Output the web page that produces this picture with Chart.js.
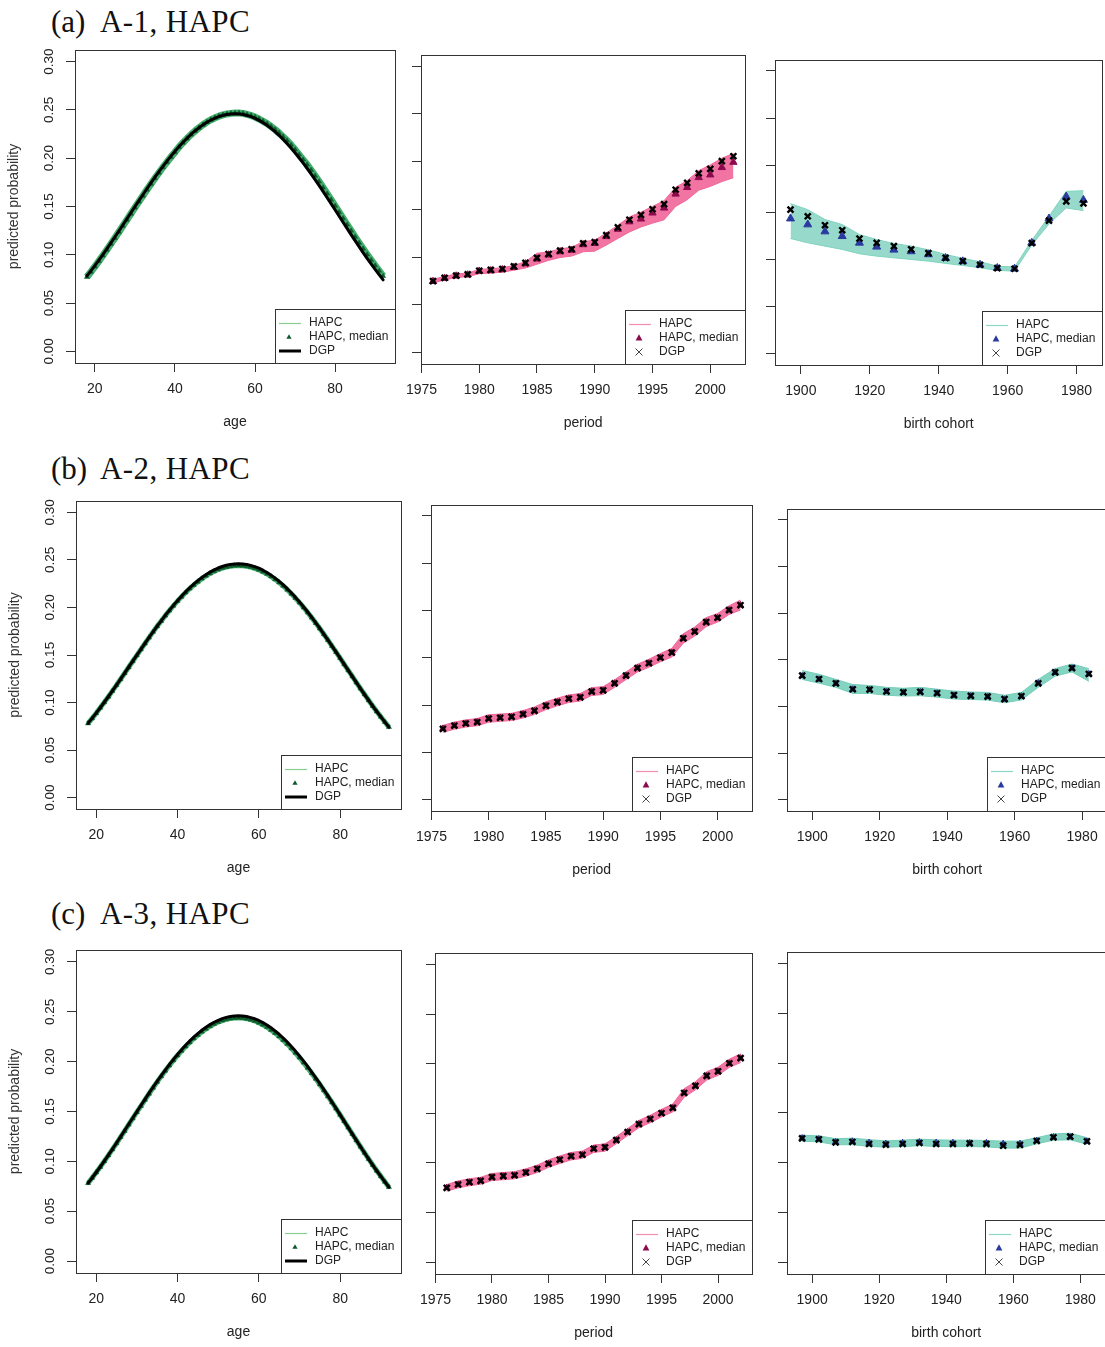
<!DOCTYPE html>
<html><head><meta charset="utf-8">
<script src="https://cdn.jsdelivr.net/npm/chart.js@4.4.1/dist/chart.umd.min.js"></script>
<style>
html,body{margin:0;padding:0;background:#fff;overflow:hidden;width:1105px;height:1347px;position:relative;}
.t{position:absolute;font-family:"Liberation Serif","Times New Roman",serif;font-size:31px;line-height:30px;color:#111;white-space:nowrap;}
canvas{position:absolute;}
</style></head><body>
<div class="t" style="left:51px;top:7px">(a)</div><div class="t" style="left:100px;top:7px;letter-spacing:0.4px">A-1, HAPC</div>
<div class="t" style="left:51px;top:454px">(b)</div><div class="t" style="left:100px;top:454px;letter-spacing:0.4px">A-2, HAPC</div>
<div class="t" style="left:51px;top:899px">(c)</div><div class="t" style="left:100px;top:899px;letter-spacing:0.4px">A-3, HAPC</div>
<script>
// ---------- categories / ticks ----------
const ages = [18,19,20,21,22,23,24,25,26,27,28,29,30,31,32,33,34,35,36,37,38,39,40,41,42,43,44,45,46,47,48,49,50,51,52,53,54,55,56,57,58,59,60,61,62,63,64,65,66,67,68,69,70,71,72,73,74,75,76,77,78,79,80,81,82,83,84,85,86,87,88,89,90,91,92];
const periods = [1976,1977,1978,1979,1980,1981,1982,1983,1984,1985,1986,1987,1988,1989,1990,1991,1992,1993,1994,1995,1996,1997,1998,1999,2000,2001,2002];
const cohorts = [1897,1902,1907,1912,1917,1922,1927,1932,1937,1942,1947,1952,1957,1962,1967,1972,1977,1982];
const ageTicks = [20,40,60,80];
const periodTicks = [1975,1980,1985,1990,1995,2000];
const cohortTicks = [1900,1920,1940,1960,1980];
const yTicks = [0,0.05,0.10,0.15,0.20,0.25,0.30];

// ---------- age ----------
const ageDgp = [0.0782,0.0833,0.0888,0.0945,0.1003,0.1062,0.1123,0.1184,0.1246,0.1309,0.1372,0.1435,0.1498,0.1560,0.1622,0.1684,0.1744,0.1803,0.1860,0.1916,0.1970,0.2022,0.2072,0.2119,0.2164,0.2206,0.2246,0.2282,0.2315,0.2345,0.2372,0.2395,0.2415,0.2431,0.2444,0.2453,0.2458,0.2460,0.2458,0.2453,0.2442,0.2430,0.2413,0.2392,0.2368,0.2340,0.2309,0.2275,0.2237,0.2196,0.2152,0.2106,0.2057,0.2005,0.1952,0.1896,0.1838,0.1779,0.1718,0.1656,0.1593,0.1530,0.1466,0.1401,0.1337,0.1273,0.1209,0.1146,0.1084,0.1023,0.0963,0.0905,0.0849,0.0794,0.0740];
const ageMedA = [0.0770,0.0823,0.0878,0.0935,0.0993,0.1052,0.1113,0.1174,0.1236,0.1299,0.1362,0.1425,0.1488,0.1550,0.1612,0.1674,0.1734,0.1793,0.1850,0.1906,0.1960,0.2012,0.2062,0.2115,0.2160,0.2203,0.2244,0.2281,0.2315,0.2346,0.2374,0.2398,0.2418,0.2435,0.2448,0.2458,0.2464,0.2467,0.2468,0.2464,0.2454,0.2442,0.2426,0.2406,0.2383,0.2358,0.2329,0.2297,0.2261,0.2222,0.2182,0.2137,0.2089,0.2037,0.1985,0.1934,0.1877,0.1818,0.1758,0.1696,0.1633,0.1570,0.1506,0.1441,0.1377,0.1313,0.1249,0.1186,0.1124,0.1063,0.1003,0.0945,0.0889,0.0834,0.0780];
const ageMedB = [0.0780,0.0833,0.0887,0.0944,0.1002,0.1061,0.1122,0.1183,0.1245,0.1308,0.1371,0.1434,0.1497,0.1559,0.1621,0.1683,0.1743,0.1802,0.1858,0.1914,0.1967,0.2018,0.2067,0.2113,0.2157,0.2198,0.2236,0.2271,0.2303,0.2332,0.2358,0.2380,0.2399,0.2414,0.2426,0.2434,0.2439,0.2441,0.2439,0.2434,0.2424,0.2412,0.2396,0.2376,0.2353,0.2326,0.2296,0.2263,0.2227,0.2187,0.2144,0.2099,0.2051,0.2000,0.1948,0.1893,0.1836,0.1778,0.1718,0.1657,0.1594,0.1531,0.1467,0.1402,0.1338,0.1274,0.1210,0.1147,0.1085,0.1024,0.0964,0.0906,0.0850,0.0795,0.0741];
const ageMedC = [0.0781,0.0834,0.0888,0.0944,0.1001,0.1060,0.1120,0.1181,0.1243,0.1305,0.1368,0.1431,0.1493,0.1555,0.1617,0.1678,0.1738,0.1797,0.1853,0.1909,0.1962,0.2013,0.2062,0.2108,0.2152,0.2193,0.2232,0.2267,0.2300,0.2329,0.2355,0.2378,0.2397,0.2412,0.2424,0.2432,0.2437,0.2439,0.2437,0.2431,0.2421,0.2408,0.2391,0.2370,0.2346,0.2318,0.2287,0.2253,0.2216,0.2176,0.2133,0.2088,0.2040,0.1990,0.1938,0.1884,0.1828,0.1771,0.1712,0.1652,0.1591,0.1529,0.1466,0.1402,0.1338,0.1274,0.1210,0.1147,0.1085,0.1024,0.0964,0.0906,0.0850,0.0795,0.0741];

// ---------- period ----------
const perDgp  = [0.0748,0.0782,0.0805,0.0819,0.0857,0.0866,0.0875,0.0903,0.0939,0.0991,0.1032,0.1067,0.1082,0.1143,0.1156,0.1229,0.1311,0.1391,0.1442,0.1501,0.1554,0.1705,0.1777,0.1877,0.1923,0.2004,0.2056];
const perMedA = [0.0745,0.0778,0.0802,0.0813,0.0852,0.0858,0.0868,0.0892,0.0929,0.0980,0.1022,0.1056,0.1072,0.1130,0.1143,0.1215,0.1292,0.1370,0.1399,0.1462,0.1514,0.1660,0.1729,0.1833,0.1861,0.1938,0.1993];
const perUpA  = [0.0765,0.0798,0.0822,0.0833,0.0870,0.0878,0.0888,0.0912,0.0952,0.1040,0.1052,0.1086,0.1102,0.1162,0.1176,0.1252,0.1332,0.1420,0.1470,0.1530,0.1590,0.1730,0.1800,0.1905,0.1965,0.2035,0.2085];
const perLoA  = [0.0730,0.0760,0.0785,0.0795,0.0825,0.0832,0.0842,0.0862,0.0885,0.0925,0.0965,0.0995,0.1010,0.1055,0.1062,0.1125,0.1195,0.1262,0.1315,0.1355,0.1390,0.1530,0.1600,0.1700,0.1740,0.1790,0.1830];
const perMedB = [0.0752,0.0784,0.0806,0.0822,0.0858,0.0868,0.0875,0.0905,0.0941,0.0993,0.1033,0.1068,0.1082,0.1145,0.1155,0.1230,0.1313,0.1394,0.1443,0.1502,0.1555,0.1706,0.1776,0.1878,0.1922,0.2004,0.2057];
const perUpB  = [0.0785,0.0820,0.0843,0.0858,0.0898,0.0905,0.0913,0.0942,0.0980,0.1035,0.1073,0.1108,0.1122,0.1185,0.1195,0.1268,0.1350,0.1432,0.1485,0.1545,0.1600,0.1755,0.1825,0.1925,0.1968,0.2050,0.2110];
const perLoB  = [0.0712,0.0745,0.0768,0.0782,0.0818,0.0828,0.0836,0.0864,0.0900,0.0952,0.0992,0.1027,0.1043,0.1102,0.1112,0.1188,0.1270,0.1350,0.1400,0.1458,0.1508,0.1655,0.1730,0.1830,0.1878,0.1958,0.2005];
const perMedC = [0.0749,0.0782,0.0804,0.0820,0.0856,0.0866,0.0874,0.0903,0.0940,0.0992,0.1032,0.1067,0.1081,0.1144,0.1156,0.1229,0.1311,0.1392,0.1442,0.1501,0.1554,0.1705,0.1776,0.1877,0.1922,0.2003,0.2055];
const perUpC  = [0.0782,0.0818,0.0840,0.0855,0.0893,0.0903,0.0912,0.0940,0.0977,0.1030,0.1070,0.1105,0.1120,0.1180,0.1192,0.1265,0.1346,0.1428,0.1480,0.1540,0.1594,0.1748,0.1818,0.1920,0.1965,0.2046,0.2100];
const perLoC  = [0.0715,0.0748,0.0770,0.0785,0.0822,0.0830,0.0840,0.0867,0.0903,0.0955,0.0995,0.1030,0.1046,0.1106,0.1118,0.1193,0.1276,0.1355,0.1405,0.1463,0.1514,0.1662,0.1737,0.1835,0.1882,0.1963,0.2012];

// ---------- birth cohort ----------
const cohDgpA = [0.1528,0.1458,0.1363,0.1310,0.1222,0.1176,0.1141,0.1106,0.1067,0.1017,0.0982,0.0943,0.0908,0.0901,0.1173,0.1412,0.1616,0.1595];
const cohMedA = [0.1433,0.1370,0.1296,0.1246,0.1176,0.1134,0.1102,0.1085,0.1053,0.1014,0.0979,0.0943,0.0908,0.0901,0.1176,0.1433,0.1666,0.1630];
const cohUpA  = [0.1592,0.1528,0.1423,0.1370,0.1264,0.1211,0.1169,0.1141,0.1102,0.1053,0.1011,0.0975,0.0929,0.0919,0.1201,0.1458,0.1722,0.1729];
const cohLoA  = [0.1222,0.1176,0.1141,0.1106,0.1060,0.1035,0.1017,0.1000,0.0982,0.0958,0.0936,0.0912,0.0883,0.0877,0.1152,0.1377,0.1546,0.1518];
const cohDgpB = [0.1330,0.1294,0.1248,0.1184,0.1181,0.1160,0.1152,0.1156,0.1142,0.1121,0.1114,0.1106,0.1078,0.1110,0.1248,0.1365,0.1411,0.1348];
const cohMedB = [0.1327,0.1290,0.1246,0.1184,0.1180,0.1160,0.1150,0.1156,0.1142,0.1118,0.1112,0.1106,0.1076,0.1110,0.1250,0.1365,0.1410,0.1348];
const cohUpB  = [0.1385,0.1345,0.1290,0.1235,0.1225,0.1205,0.1195,0.1205,0.1185,0.1165,0.1155,0.1150,0.1120,0.1150,0.1290,0.1405,0.1455,0.1405];
const cohLoB  = [0.1290,0.1250,0.1205,0.1140,0.1140,0.1120,0.1112,0.1115,0.1100,0.1080,0.1075,0.1068,0.1040,0.1070,0.1205,0.1325,0.1370,0.1270];
const cohDgpC = [0.1243,0.1233,0.1203,0.1207,0.1187,0.1180,0.1187,0.1197,0.1187,0.1187,0.1193,0.1187,0.1170,0.1177,0.1217,0.1253,0.1260,0.1213];
const cohMedC = [0.1245,0.1236,0.1208,0.1213,0.1200,0.1190,0.1198,0.1205,0.1200,0.1198,0.1196,0.1198,0.1190,0.1190,0.1220,0.1255,0.1255,0.1213];
const cohUpC  = [0.1275,0.1268,0.1240,0.1245,0.1230,0.1218,0.1225,0.1235,0.1228,0.1225,0.1225,0.1222,0.1215,0.1215,0.1250,0.1288,0.1295,0.1250];
const cohLoC  = [0.1215,0.1208,0.1178,0.1180,0.1162,0.1155,0.1160,0.1170,0.1162,0.1160,0.1160,0.1158,0.1145,0.1145,0.1188,0.1225,0.1228,0.1185];

const legendLabels = ['HAPC','HAPC, median','DGP'];

// ---------- styles ----------
const COL = {
  age: {band:'#44ae6e', legend:'#86cf90', med:'#0c5a2a'},
  period: {band:'#f06898', fill:'rgba(241,104,154,0.92)', legend:'#f28db3', med:'#8b0a4e'},
  cohort: {band:'#74cdb8', fill:'rgba(122,208,189,0.92)', legend:'#8ad7c5', med:'#2a3a9e'},
  cohortWide: {band:'#7fd3bf', fill:'rgba(122,208,189,0.78)', legend:'#8ad7c5', med:'#2a3a9e'}
};
const SANS = '"Liberation Sans", Arial, sans-serif';

function pts(xs, ys){ return xs.map((x,i)=>({x:x, y:ys[i]})); }

function ageSets(med, bw){
  return [
    {data:pts(ages,ageDgp), borderColor:'#000', borderWidth:3, pointRadius:0, borderCapStyle:'round', borderJoinStyle:'round'},
    {data:pts(ages,med), showLine:false, pointStyle:'triangle', pointRadius:2.9, pointBackgroundColor:COL.age.med, pointBorderColor:COL.age.med, pointBorderWidth:0.5},
    {data:pts(ages,med), borderColor:COL.age.band, borderWidth:bw, pointRadius:0, borderJoinStyle:'round'}
  ];
}
function bandSets(xs, dgp, med, up, lo, c, r){
  return [
    {data:pts(xs,dgp), showLine:false, pointStyle:'crossRot', pointRadius:4.2, pointBorderWidth:2.4, pointBorderColor:'#000'},
    {data:pts(xs,med), showLine:false, pointStyle:'triangle', pointRadius:r, pointBackgroundColor:c.med, pointBorderColor:c.med, pointBorderWidth:1},
    {data:pts(xs,up), borderColor:c.band, borderWidth:1, pointRadius:0, fill:false},
    {data:pts(xs,lo), borderColor:c.band, borderWidth:1, pointRadius:0, fill:'-1', backgroundColor:c.fill}
  ];
}

const frameLegend = {
  id:'frameLegend',
  afterDatasetsDraw(chart){
    const o = chart.options.plugins.frameLegend;
    const {ctx, chartArea:a} = chart;
    ctx.save();
    ctx.strokeStyle = '#333'; ctx.lineWidth = 1;
    ctx.strokeRect(Math.round(a.left)+0.5, Math.round(a.top)+0.5, Math.round(a.right-a.left), Math.round(a.bottom-a.top));
    const lw = 120, lh = 54;
    const x0 = Math.round(a.right)-lw, y0 = Math.round(a.bottom)-lh;
    ctx.fillStyle = '#fff'; ctx.fillRect(x0, y0, lw, lh);
    ctx.strokeRect(x0+0.5, y0+0.5, lw, lh);
    const c = COL[o.kind];
    ctx.strokeStyle = c.legend; ctx.lineWidth = 1.2;
    ctx.beginPath(); ctx.moveTo(x0+4, y0+14.5); ctx.lineTo(x0+26, y0+14.5); ctx.stroke();
    const tr = o.kind==='age' ? 2.6 : 3.4;
    const tx = x0+14, ty = y0+28;
    ctx.fillStyle = c.med;
    ctx.beginPath(); ctx.moveTo(tx, ty-tr*1.1); ctx.lineTo(tx+tr, ty+tr*0.7); ctx.lineTo(tx-tr, ty+tr*0.7); ctx.closePath(); ctx.fill();
    if (o.kind==='age'){
      ctx.strokeStyle = '#000'; ctx.lineWidth = 3;
      ctx.beginPath(); ctx.moveTo(x0+4, y0+42); ctx.lineTo(x0+26, y0+42); ctx.stroke();
    } else {
      ctx.strokeStyle = '#444'; ctx.lineWidth = 1;
      ctx.beginPath(); ctx.moveTo(tx-3.5, y0+38.5); ctx.lineTo(tx+3.5, y0+45.5);
      ctx.moveTo(tx+3.5, y0+38.5); ctx.lineTo(tx-3.5, y0+45.5); ctx.stroke();
    }
    ctx.fillStyle = '#222'; ctx.font = '12px ' + SANS; ctx.textBaseline = 'middle'; ctx.textAlign = 'left';
    legendLabels.forEach((t,i)=>ctx.fillText(t, x0+34, y0+14+i*14));
    ctx.restore();
  }
};

function makePanel(p){
  const padL = p.first ? 75 : 20, padT = 5, padR = 5, padB = 75;
  const w = (p.R-p.L)+padL+padR, h = (p.B-p.T)+padT+padB;
  const cv = document.createElement('canvas');
  cv.width = w; cv.height = h;
  cv.style.left = (p.L-padL)+'px'; cv.style.top = (p.T-padT)+'px';
  cv.style.width = w+'px'; cv.style.height = h+'px';
  document.body.appendChild(cv);
  const xr = {age:[15.04,94.96], period:[1974.96,2003.04], cohort:[1892.5,1987.5]}[p.kind];
  const xt = {age:ageTicks, period:periodTicks, cohort:cohortTicks}[p.kind];
  const xTitle = {age:'age', period:'period', cohort:'birth cohort'}[p.kind];
  const gridOpts = {display:true, drawOnChartArea:false, drawTicks:true, tickLength:9, color:'#333', lineWidth:1};
  new Chart(cv, {
    type:'line',
    data:{datasets:p.sets},
    options:{
      responsive:false, animation:false, devicePixelRatio:1, events:[],
      layout:{padding:{top:padT, right:padR, left:0, bottom:0}},
      elements:{line:{tension:0}},
      plugins:{legend:{display:false}, tooltip:{enabled:false}, frameLegend:{kind:p.kind}},
      scales:{
        x:{type:'linear', min:xr[0], max:xr[1],
           afterFit:s=>{s.height=padB; s.paddingLeft=0; s.paddingRight=0; s.paddingTop=0; s.paddingBottom=0;},
           afterBuildTicks:s=>{s.ticks = xt.map(v=>({value:v}));},
           grid:gridOpts, border:{display:false},
           ticks:{autoSkip:false, maxRotation:0, minRotation:0, padding:9, color:'#222', font:{family:SANS, size:14}, callback:v=>String(v)},
           title:{display:true, text:xTitle, color:'#222', font:{family:SANS, size:14}, padding:{top:0, bottom:7}}},
        y:{type:'linear', min:-0.012, max:0.312,
           afterFit:s=>{s.width=padL; s.paddingTop=0; s.paddingBottom=0; s.paddingLeft=0; s.paddingRight=0;},
           afterBuildTicks:s=>{s.ticks = yTicks.map(v=>({value:v}));},
           grid:gridOpts, border:{display:false},
           ticks:{autoSkip:false, minRotation:90, maxRotation:90, crossAlign:'center', padding:4, color:'#222', font:{family:SANS, size:13.5}, callback:v=> p.first ? v.toFixed(2) : ''},
           title:{display:!!p.first, text:'predicted probability', color:'#333', font:{family:SANS, size:14}, padding:{top:6, bottom:0}}}
      }
    },
    plugins:[frameLegend]
  });
}

const panels = [
  {kind:'age', first:true, L:75, T:50, R:395, B:363, sets:ageSets(ageMedA,7)},
  {kind:'period', L:421, T:53, R:747, B:364, sets:bandSets(periods,perDgp,perMedA,perUpA,perLoA,COL.period,4.2)},
  {kind:'cohort', L:775, T:58, R:1104, B:365, sets:bandSets(cohorts,cohDgpA,cohMedA,cohUpA,cohLoA,COL.cohortWide,4.6)},
  {kind:'age', first:true, L:76, T:501, R:401, B:809, sets:ageSets(ageMedB,5)},
  {kind:'period', L:431, T:503, R:754, B:811, sets:bandSets(periods,perDgp,perMedB,perUpB,perLoB,COL.period,3.6)},
  {kind:'cohort', L:787, T:507, R:1109, B:811, sets:bandSets(cohorts,cohDgpB,cohMedB,cohUpB,cohLoB,COL.cohort,3.6)},
  {kind:'age', first:true, L:76, T:950, R:401, B:1273, sets:ageSets(ageMedC,5)},
  {kind:'period', L:435, T:951, R:754, B:1274, sets:bandSets(periods,perDgp,perMedC,perUpC,perLoC,COL.period,3.6)},
  {kind:'cohort', L:787, T:950, R:1107, B:1274, sets:bandSets(cohorts,cohDgpC,cohMedC,cohUpC,cohLoC,COL.cohort,3.6)}
];
panels.forEach(makePanel);
</script>
</body></html>
